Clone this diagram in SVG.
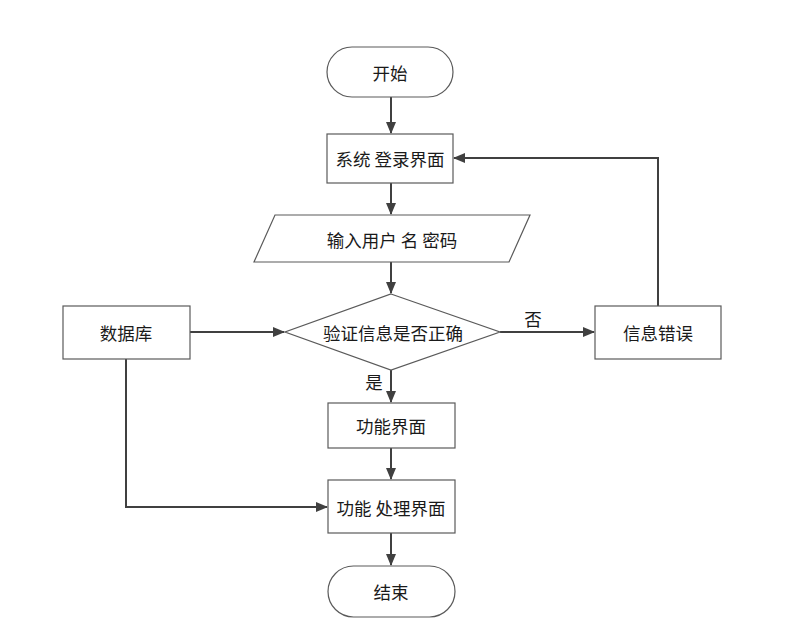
<svg xmlns="http://www.w3.org/2000/svg" width="803" height="641" viewBox="0 0 803 641">
<style>
.s{fill:#fff;stroke:#5a5a5a;stroke-width:1.2}
.t{font-family:"Noto Sans CJK SC","Noto Sans",sans-serif;font-size:17.5px;fill:#1a1a1a;text-anchor:middle;dominant-baseline:central}
.c{fill:none;stroke:#404040;stroke-width:2}
</style>
<defs>
<marker id="a" markerWidth="12" markerHeight="12" refX="11" refY="6" orient="auto" markerUnits="userSpaceOnUse">
<path d="M0,1 L12,6 L0,11 Z" fill="#404040"/>
</marker>
</defs>
<rect width="803" height="641" fill="#fff"/>
<g id="connectors">
<path class="c" d="M391,97 V133" marker-end="url(#a)"/>
<path class="c" d="M391,183 V214" marker-end="url(#a)"/>
<path class="c" d="M391,262 V293" marker-end="url(#a)"/>
<path class="c" d="M190,332 H284" marker-end="url(#a)"/>
<path class="c" d="M500,332 H594" marker-end="url(#a)"/>
<path class="c" d="M658,306 V158 H454" marker-end="url(#a)"/>
<path class="c" d="M391,370 V402" marker-end="url(#a)"/>
<path class="c" d="M391,448 V479" marker-end="url(#a)"/>
<path class="c" d="M126,359 V507 H327" marker-end="url(#a)"/>
<path class="c" d="M391,533 V565" marker-end="url(#a)"/>
<text class="t" x="533" y="318">否</text>
<text class="t" x="374" y="381">是</text>
</g>
<g id="start"><rect class="s" x="327" y="47" width="126" height="50" rx="25"/><text class="t" x="390" y="72">开始</text></g>
<g id="login"><rect class="s" x="327" y="134" width="126" height="49"/><text class="t" x="390" y="158">系统 登录界面</text></g>
<g id="input"><polygon class="s" points="275,215 530,215 509,262 254,262"/><text class="t" x="392" y="239">输入用户 名 密码</text></g>
<g id="verify"><polygon class="s" points="391,294 500,332 391,370 285,332"/><text class="t" x="393" y="332">验证信息是否正确</text></g>
<g id="db"><rect class="s" x="63" y="306" width="127" height="53"/><text class="t" x="126" y="332">数据库</text></g>
<g id="err"><rect class="s" x="595" y="306" width="126" height="53"/><text class="t" x="658" y="332">信息错误</text></g>
<g id="func"><rect class="s" x="328" y="403" width="127" height="45"/><text class="t" x="391" y="425">功能界面</text></g>
<g id="proc"><rect class="s" x="328" y="480" width="127" height="53"/><text class="t" x="391" y="507">功能 处理界面</text></g>
<g id="end"><rect class="s" x="328" y="566" width="127" height="51" rx="25.5"/><text class="t" x="391" y="591">结束</text></g>
</svg>
